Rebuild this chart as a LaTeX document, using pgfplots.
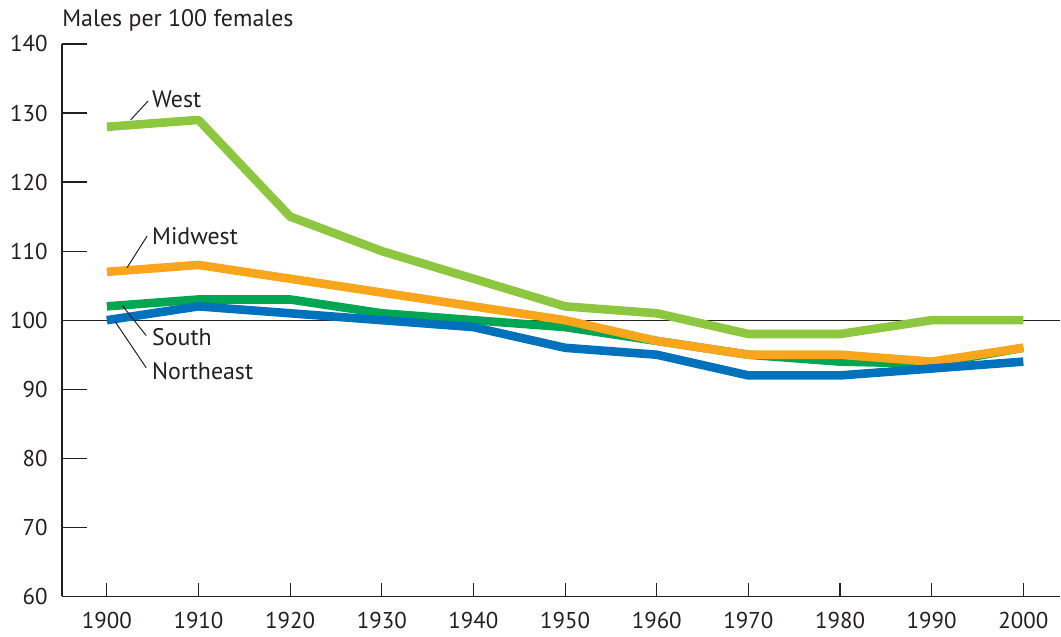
\documentclass[border=0pt]{standalone}
\usepackage{fontspec}
\setmainfont{PT Sans}
\usepackage{pgfplots}
\pgfplotsset{compat=1.18}
\definecolor{cwest}{HTML}{8DC63F}
\definecolor{cmid}{HTML}{F9A61C}
\definecolor{csouth}{HTML}{00A651}
\definecolor{cne}{HTML}{0072BC}
\definecolor{ctext}{HTML}{231F20}
\begin{document}
\fontsize{12}{14}\selectfont
\begin{tikzpicture}
\begin{axis}[
  scale only axis,
  width=499.5bp, height=276.5bp,
  xmin=1895.1, xmax=2004.0,
  ymin=60, ymax=140,
  axis x line*=bottom, axis y line*=left,
  axis line style={draw=ctext, line width=0.6pt},
  xtick={1900,1910,...,2000},
  ytick={60,70,...,140},
  x tick label style={/pgf/number format/1000 sep={}},
  /pgf/number format/assume math mode=true,
  tick label style={font=\fontsize{11.5}{13}\selectfont, text=ctext},
  ytick style={draw=ctext, line width=0.6pt},
  xtick style={draw=ctext, line width=0.6pt},
  tick align=inside,
  xtick pos=bottom, ytick pos=left,
  x tick style={/pgfplots/major tick length=6.5bp},
  y tick style={/pgfplots/major tick length=12.5bp},
  yticklabel style={xshift=-3bp},
  xticklabel style={yshift=-3.5bp},
  clip=false,
  line join=round,
]
\coordinate (bl) at (rel axis cs:0,0);
\coordinate (tr) at (rel axis cs:1,1);
\draw[ctext, line width=0.6pt] (axis cs:1895.1,100) -- (axis cs:2004,100);
\addplot[cwest, line width=4.3bp] coordinates {
(1900,128) (1910,129) (1920,115) (1930,110) (1940,106) (1950,102)
(1960,101) (1970,98) (1980,98) (1990,100) (2000,100)};
\addplot[csouth, line width=4.3bp] coordinates {
(1900,102) (1910,103) (1920,103) (1930,101) (1940,100) (1950,99)
(1960,97) (1970,95) (1980,94) (1990,93.7) (2000,96)};
\addplot[cmid, line width=4.3bp] coordinates {
(1900,107) (1910,108) (1920,106) (1930,104) (1940,102) (1950,100)
(1960,97) (1970,95) (1980,95) (1990,94) (2000,96)};
\addplot[cne, line width=4.3bp] coordinates {
(1900,100) (1910,102) (1920,101) (1930,100) (1940,99) (1950,96)
(1960,95) (1970,92) (1980,92) (1990,93) (2000,94)};
\draw[ctext, line width=0.5pt] (axis cs:1902.6,129.0) -- (axis cs:1904.5,131.75);
\draw[ctext, line width=0.5pt] (axis cs:1902.2,107.6) -- (axis cs:1904.4,112.2);
\draw[ctext, line width=0.5pt] (axis cs:1901.7,102.1) -- (axis cs:1904.3,97.76);
\draw[ctext, line width=0.5pt] (axis cs:1900.9,99.8) -- (axis cs:1904.3,93.1);
\node[anchor=west, text=ctext, inner sep=0pt] at (axis cs:1904.9,132.0) {West};
\node[anchor=west, text=ctext, inner sep=0pt] at (axis cs:1904.9,112.1) {Midwest};
\node[anchor=west, text=ctext, inner sep=0pt] at (axis cs:1904.9,97.6) {South};
\node[anchor=west, text=ctext, inner sep=0pt] at (axis cs:1904.9,92.55) {Northeast};
\node[anchor=base west, text=ctext, inner sep=0pt] at ([yshift=8.5bp]rel axis cs:0,1) {Males per 100 females};
\end{axis}
\pgfresetboundingbox
\path ([shift={(-31bp,-20bp)}]bl) rectangle ([shift={(0.5bp,22bp)}]tr);
\end{tikzpicture}
\end{document}
